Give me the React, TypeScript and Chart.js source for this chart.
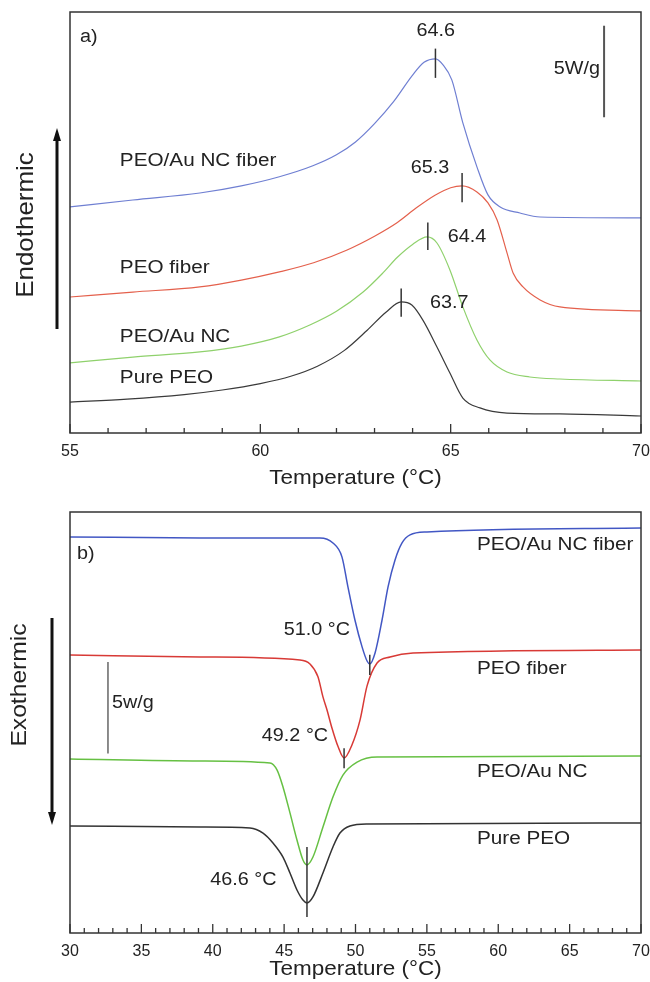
import React, { useEffect, useRef } from 'react';
import { Chart, registerables } from 'chart.js';

Chart.register(...registerables);

type Pt = [number, number];

// ---------- panel a) heating scans: [temperature °C, heat flow W/g (with vertical offset)] ----------
const meltRange = [55, 70];
const meltFiberAuNC: Pt[] = [
  [55.0, 12.35], [56.65, 12.73], [58.41, 13.11], [59.5, 13.5], [60.5, 14.0], [61.38, 14.6],
  [62.0, 15.2], [62.5, 15.9], [63.0, 16.9], [63.5, 18.1], [64.0, 19.55], [64.3, 20.25],
  [64.6, 20.44], [64.8, 20.11], [65.03, 19.29], [65.32, 16.94], [65.69, 14.54], [65.98, 13.01],
  [66.3, 12.35], [66.82, 12.02], [67.35, 11.8], [70.0, 11.75],
];
const meltFiber: Pt[] = [
  [55.0, 7.43], [56.65, 7.7], [58.41, 7.98], [59.5, 8.35], [60.5, 8.8], [61.4, 9.3],
  [62.28, 10.0], [63.0, 10.75], [63.6, 11.5], [64.1, 12.3], [64.6, 13.0], [65.0, 13.4],
  [65.3, 13.5], [65.69, 13.17], [65.98, 12.57], [66.22, 11.64], [66.48, 9.84], [66.64, 8.74],
  [66.9, 7.98], [67.35, 7.27], [67.87, 6.89], [70.0, 6.67],
];
const meltAuNC: Pt[] = [
  [55.0, 3.83], [56.65, 4.15], [58.41, 4.43], [59.5, 4.75], [60.5, 5.25], [61.3, 5.9],
  [62.0, 6.65], [62.7, 7.7], [63.2, 8.7], [63.6, 9.6], [64.0, 10.3], [64.38, 10.71],
  [64.64, 10.38], [64.98, 8.91], [65.32, 6.89], [65.69, 5.08], [66.03, 3.99], [66.48, 3.33],
  [67.08, 3.06], [67.87, 2.95], [70.0, 2.84],
];
const meltPure: Pt[] = [
  [55.0, 1.69], [56.5, 1.85], [58.0, 2.1], [59.0, 2.35], [60.0, 2.7], [60.8, 3.1],
  [61.5, 3.65], [62.2, 4.5], [62.8, 5.6], [63.3, 6.6], [63.7, 7.16], [63.98, 6.99],
  [64.27, 6.17], [64.64, 4.7], [64.98, 3.28], [65.32, 1.91], [65.77, 1.37], [66.48, 1.09],
  [67.87, 1.04], [70.0, 0.93],
];
const meltPeaks = [64.6, 65.3, 64.4, 63.7];

// ---------- panel b) cooling scans ----------
const crystRange = [30, 70];
const crystFiberAuNC: Pt[] = [
  [30.0, 21.64], [39.11, 21.58], [47.51, 21.58], [48.42, 21.31], [49.05, 20.55], [49.47, 18.91],
  [49.96, 17.1], [50.46, 15.63], [50.81, 14.86], [51.0, 14.7], [51.37, 15.3], [51.86, 17.1],
  [52.28, 18.91], [52.77, 20.38], [53.26, 21.31], [53.82, 21.75], [55.01, 21.91], [70.0, 22.13],
];
const crystFiber: Pt[] = [
  [30.0, 15.19], [39.11, 15.08], [46.11, 14.92], [46.81, 14.7], [47.37, 14.0], [47.72, 12.9],
  [48.0, 12.2], [48.35, 11.2], [48.77, 10.2], [49.2, 9.56], [49.75, 10.27], [50.32, 11.64],
  [50.81, 13.5], [51.51, 14.75], [52.42, 15.08], [54.03, 15.3], [70.0, 15.46],
];
const crystAuNC: Pt[] = [
  [30.0, 9.51], [39.11, 9.4], [44.01, 9.29], [44.5, 8.91], [44.92, 7.98], [45.41, 6.56],
  [45.9, 5.08], [46.32, 3.99], [46.6, 3.72], [47.02, 4.15], [47.72, 5.79], [48.42, 7.43],
  [49.12, 8.63], [50.11, 9.34], [51.51, 9.62], [70.0, 9.67],
];
const crystPure: Pt[] = [
  [30.0, 5.85], [39.11, 5.79], [42.61, 5.74], [43.52, 5.46], [44.22, 4.92], [44.92, 4.15],
  [45.41, 3.28], [45.9, 2.35], [46.32, 1.8], [46.6, 1.64], [47.02, 1.97], [47.72, 3.28],
  [48.42, 4.7], [48.91, 5.46], [49.61, 5.85], [50.81, 5.96], [70.0, 6.01],
];
const crystPeaks = [51.0, 49.2, 46.6];

const sampleNames = ['PEO/Au NC fiber', 'PEO fiber', 'PEO/Au NC', 'Pure PEO'];
const axisTitle = 'Temperature (°C)';

// ---------- drawing helpers ----------
const FONT = '"Liberation Sans", Arial, Helvetica, sans-serif';
const INK = '#222';

function text(ctx: CanvasRenderingContext2D, s: string, x: number, y: number, size: number,
  align: CanvasTextAlign = 'left', sx = 1.1, rot = 0) {
  ctx.save();
  ctx.translate(x, y);
  if (rot) ctx.rotate(rot);
  ctx.scale(sx, 1);
  ctx.font = `${size}px ${FONT}`;
  ctx.fillStyle = INK;
  ctx.textAlign = align;
  ctx.textBaseline = 'middle';
  ctx.fillText(s, 0, 0);
  ctx.restore();
}

function seg(ctx: CanvasRenderingContext2D, x0: number, y0: number, x1: number, y1: number, w: number, c: string) {
  ctx.save();
  ctx.strokeStyle = c;
  ctx.lineWidth = w;
  ctx.beginPath();
  ctx.moveTo(x0, y0);
  ctx.lineTo(x1, y1);
  ctx.stroke();
  ctx.restore();
}

function arrow(ctx: CanvasRenderingContext2D, x: number, yFrom: number, yTip: number) {
  const dir = yTip < yFrom ? -1 : 1;
  const base = yTip - dir * 13;
  seg(ctx, x, yFrom, x, base, 3, '#111');
  ctx.save();
  ctx.fillStyle = '#111';
  ctx.beginPath();
  ctx.moveTo(x, yTip);
  ctx.lineTo(x - 4, base);
  ctx.lineTo(x + 4, base);
  ctx.closePath();
  ctx.fill();
  ctx.restore();
}

type Spec = {
  range: number[];
  series: Pt[][];
  colors: string[];
  lineWidth: number;
  padTop: number;
  axisHeight: number;
  titleY: number;
  decor: (ctx: CanvasRenderingContext2D, px: (t: number) => number, py: (v: number) => number) => void;
};

function makeConfig(spec: Spec): any {
  const framePlugin = {
    id: 'frameDecor',
    afterDraw(chart: any) {
      const { ctx, chartArea: a, scales } = chart;
      const xs = scales.x;
      const ys = scales.y;
      const px = (t: number) => xs.getPixelForValue(t);
      const py = (v: number) => ys.getPixelForValue(v);
      // inward tick marks
      xs.ticks.forEach((t: any) => {
        const X = px(t.value);
        const L = Math.abs(t.value % 5) < 1e-6 ? 9 : 5;
        seg(ctx, X, a.bottom, X, a.bottom - L, 1.3, '#333');
      });
      // frame
      ctx.save();
      ctx.strokeStyle = '#333';
      ctx.lineWidth = 1.5;
      ctx.strokeRect(a.left, a.top, a.right - a.left, a.bottom - a.top);
      ctx.restore();
      // axis title
      text(ctx, axisTitle, (a.left + a.right) / 2, spec.titleY, 21, 'center', 1.07);
      spec.decor(ctx, px, py);
    },
  };

  return {
    type: 'line',
    data: {
      datasets: spec.series.map((s, i) => ({
        label: sampleNames[i],
        data: s.map(([x, y]) => ({ x, y })),
        borderColor: spec.colors[i],
        borderWidth: spec.lineWidth,
        pointRadius: 0,
        fill: false,
        cubicInterpolationMode: 'monotone',
      })),
    },
    options: {
      animation: false,
      responsive: false,
      maintainAspectRatio: false,
      layout: { padding: { left: 70, right: 9, top: spec.padTop, bottom: 0 } },
      plugins: { legend: { display: false }, tooltip: { enabled: false } },
      scales: {
        x: {
          type: 'linear',
          min: spec.range[0],
          max: spec.range[1],
          grid: { display: false, drawTicks: false },
          border: { display: false },
          ticks: {
            stepSize: 1,
            autoSkip: false,
            maxRotation: 0,
            padding: 9,
            color: INK,
            font: { family: FONT, size: 16 },
            callback: (v: number) => (Math.abs(v % 5) < 1e-6 ? String(v) : ''),
          },
          afterFit: (s: any) => {
            s.height = spec.axisHeight;
            s.paddingLeft = 0;
            s.paddingRight = 0;
          },
        },
        y: { display: false, min: 0, max: 23 },
      },
    },
    plugins: [framePlugin],
  };
}

// ---------- panel specs ----------
const topSpec: Spec = {
  range: meltRange,
  series: [meltFiberAuNC, meltFiber, meltAuNC, meltPure],
  colors: ['#6f7fd2', '#e4604c', '#8fd16c', '#3a3a3a'],
  lineWidth: 1.2,
  padTop: 12,
  axisHeight: 57,
  titleY: 478,
  decor: (ctx, px, py) => {
    const markers = [[19.4, 21.0], [12.6, 14.2], [10.0, 11.5], [6.35, 7.9]];
    const labelPos = [[64.61, 21.94], [64.46, 14.48], [65.43, 10.71], [64.96, 7.1]];
    meltPeaks.forEach((p, i) => {
      seg(ctx, px(p), py(markers[i][0]), px(p), py(markers[i][1]), 1.5, '#333');
      text(ctx, p.toFixed(1), px(labelPos[i][0]), py(labelPos[i][1]), 18, 'center');
    });
    const nameV = [14.86, 9.02, 5.25, 3.01];
    sampleNames.forEach((n, i) => text(ctx, n, px(56.31), py(nameV[i]), 18, 'left', 1.15));
    seg(ctx, px(69.03), py(22.25), px(69.03), py(17.25), 2, '#555');
    text(ctx, '5W/g', px(68.92), py(19.89), 18, 'right');
    text(ctx, 'a)', px(55.26), py(21.64), 18, 'left');
    text(ctx, 'Endothermic', 26, 225, 24, 'center', 1.08, -Math.PI / 2);
    arrow(ctx, 57, 329, 128);
  },
};

const bottomSpec: Spec = {
  range: crystRange,
  series: [crystFiberAuNC, crystFiber, crystAuNC, crystPure],
  colors: ['#4257c4', '#d83a36', '#66c043', '#333333'],
  lineWidth: 1.5,
  padTop: 22,
  axisHeight: 49,
  titleY: 479,
  decor: (ctx, px, py) => {
    const markers = [[14.1, 15.2], [9.0, 10.1], [0.87, 4.7]];
    const labelPos = [[47.3, 16.56], [45.76, 10.77], [42.15, 2.9]];
    crystPeaks.forEach((p, i) => {
      seg(ctx, px(p), py(markers[i][0]), px(p), py(markers[i][1]), 1.5, '#333');
      text(ctx, `${p.toFixed(1)} °C`, px(labelPos[i][0]), py(labelPos[i][1]), 18, 'center');
    });
    const nameV = [21.2, 14.43, 8.8, 5.14];
    sampleNames.forEach((n, i) => text(ctx, n, px(58.51), py(nameV[i]), 18, 'left', 1.15));
    seg(ctx, px(32.66), py(14.8), px(32.66), py(9.8), 1.5, '#666');
    text(ctx, '5w/g', px(32.94), py(12.57), 18, 'left');
    text(ctx, 'b)', px(30.49), py(20.71), 18, 'left');
    text(ctx, 'Exothermic', 20, 195, 22, 'center', 1.12, -Math.PI / 2);
    arrow(ctx, 52, 128, 335);
  },
};

function Panel({ spec, height }: { spec: Spec; height: number }) {
  const ref = useRef<HTMLCanvasElement>(null);
  useEffect(() => {
    const chart = new Chart(ref.current as HTMLCanvasElement, makeConfig(spec));
    return () => chart.destroy();
  }, [spec]);
  return <canvas ref={ref} width={650} height={height} style={{ display: 'block', width: 650, height }} />;
}

export default function App() {
  return (
    <div style={{ position: 'absolute', left: 0, top: 0, width: 650, height: 982, background: '#fff' }}>
      <Panel spec={topSpec} height={490} />
      <Panel spec={bottomSpec} height={492} />
    </div>
  );
}
